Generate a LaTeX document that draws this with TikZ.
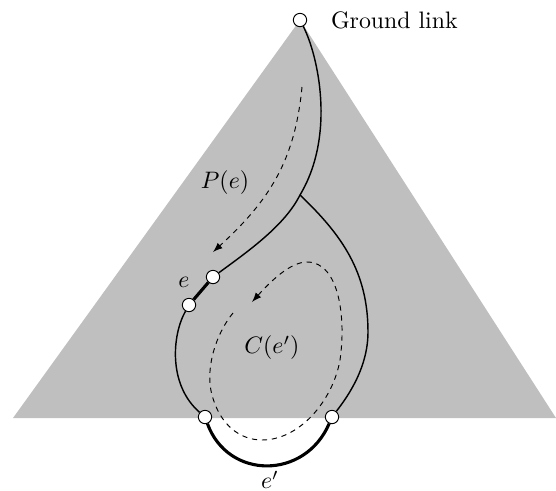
\documentclass[tikz,border=0pt]{standalone}
\usepackage{amsmath,amssymb}
\usetikzlibrary{arrows,positioning}

\tikzset{
  vtx/.style={draw,thin,fill=white,circle,inner sep=0pt,minimum size=5.6pt},
  tree/.style={semithick},
  link/.style={line width=1.3pt},
  walk/.style={thin,dashed,dash pattern=on 2.2pt off 2pt,-latex}
}

\begin{document}
\begin{tikzpicture}[x=0.42pt,y=-0.42pt]
    \useasboundingbox (0,0) rectangle (556,491);

    % the tree region
    \fill[gray!50] (300,20) -- (556,418) -- (13,418) -- cycle;

    \coordinate (j) at (300,195);
    \coordinate (pa) at (302,87);
    \coordinate (pb) at (213,252);
    \coordinate (ca) at (233,313);
    \coordinate (cb) at (252,302);

    \node[vtx] (g) at (300,20) {};
    \node[vtx] (e1) at (213,277) {};
    \node[vtx] (e2) at (189,305) {};
    \node[vtx] (lb) at (205,417) {};
    \node[vtx] (rb) at (332,417) {};

    % paths
    \draw[tree] (g) .. controls (318,55) and (336,135) .. (j)
                    .. controls (285,225) and (250,250) .. (e1);
    \draw[tree] (j) .. controls (342,235) and (368,272) .. (368,332)
                    .. controls (368,370) and (345,400) .. (rb);
    \draw[tree] (e2) .. controls (172,335) and (168,385) .. (lb);
    \draw[link] (e1) -- (e2);
    \draw[link] (lb) .. controls (228,480) and (305,480) .. (rb);

    \draw[walk] (pa) .. controls (295,160) and (270,200) .. (pb);
    \draw[walk] (ca) .. controls (215,335) and (205,370) .. (212,395)
                     .. controls (220,425) and (240,440) .. (262,440)
                     .. controls (300,440) and (333,400) .. (340,360)
                     .. controls (346,320) and (340,262) .. (307,262)
                     .. controls (290,262) and (270,282) .. (cb);

    % labels
    \node[right=6.5pt of g] (gl) {Ground link};
    \node (pe) at (225,183) {$P(e)$};
    \node (el) at (184,282) {$e$};
    \node (ce) at (272,348) {$C(e')$};
    \node (ep) at (270,480) {$e'$};
\end{tikzpicture}
\end{document}
